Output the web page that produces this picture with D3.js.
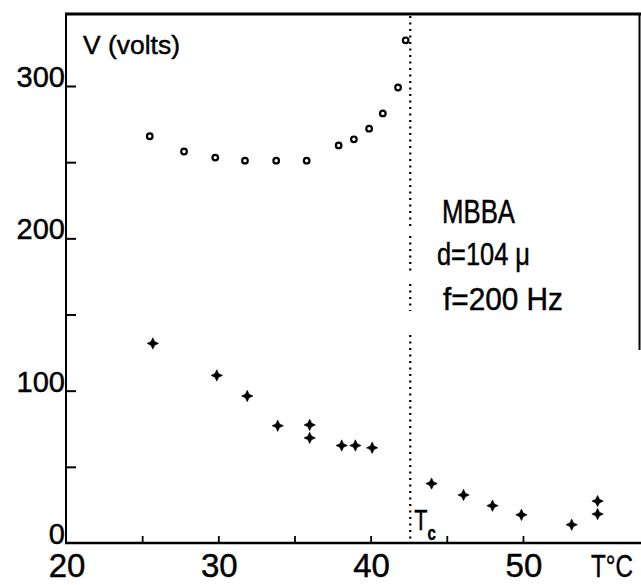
<!DOCTYPE html>
<html>
<head>
<meta charset="utf-8">
<script src="https://cdn.jsdelivr.net/npm/d3@7"></script>
<style>
  html, body { margin: 0; padding: 0; background: #fff; }
  svg { display: block; }
  text { font-family: "Liberation Sans", Arial, sans-serif; fill: #000; stroke: #000; stroke-width: 0.45px; }
</style>
</head>
<body>
<svg id="chart" width="641" height="585"></svg>
<script>
// Threshold voltage of MBBA vs temperature (nematic side: circles, isotropic-ish branch: crosses)
const circleT = [25.5, 27.75, 29.8, 31.75, 33.8, 35.8, 37.9, 38.9, 39.9, 40.8, 41.8, 42.3];
const circleV = [267, 257, 253, 251, 251, 251, 261, 265, 272, 282, 299, 330];
const crossT = [25.7, 29.9, 31.9, 33.9, 36.0, 36.0, 38.1, 39.0, 40.1, 44.0, 46.1, 48.0, 49.9, 53.2, 54.9, 54.9];
const crossV = [131, 110, 96.5, 77, 77.5, 69, 64, 64, 62.5, 39, 31.5, 24.5, 18.5, 12, 27.5, 19];
const Tc = 42.6;

const xTicks = [25, 30, 35, 40, 45, 50];
const xLabels = [20, 30, 40, 50];
const yTicks = [50, 100, 150, 200, 250, 300];
const yLabels = [0, 100, 200, 300];
const infoLines = ["MBBA", "d=104 μ", "f=200 Hz"];

const svg = d3.select("#chart");
const x = d3.scaleLinear().domain([20, 57.75]).range([66, 641]);
const y = d3.scaleLinear().domain([0, 300]).range([543, 86]);
const yTop = 14;

// frame: top rule, right edge
svg.append("line").attr("x1", x(20) - 1).attr("x2", 641).attr("y1", yTop).attr("y2", yTop)
  .attr("stroke", "#000").attr("stroke-width", 3);
svg.append("line").attr("x1", 639.5).attr("x2", 639.5).attr("y1", yTop).attr("y2", 350)
  .attr("stroke", "#000").attr("stroke-width", 2);

// y axis with inward ticks
const yAxis = d3.axisLeft(y).tickValues(yTicks).tickSizeInner(-10).tickSizeOuter(0).tickFormat("");
const gy = svg.append("g").attr("transform", `translate(${x(20)},0)`).call(yAxis);
gy.select(".domain").attr("d", `M0,${y(0)}V${yTop}`).attr("stroke-width", 2);
gy.selectAll(".tick line").attr("stroke-width", 2);

// x axis with inward ticks
const xAxis = d3.axisBottom(x).tickValues(xTicks).tickSizeInner(-7).tickSizeOuter(0).tickFormat("");
const gx = svg.append("g").attr("transform", `translate(0,${y(0)})`).call(xAxis);
gx.select(".domain").attr("d", `M${x(20) - 1},0H641`).attr("stroke-width", 2.5);
gx.selectAll(".tick line").attr("stroke-width", 1.8);

// tick labels
svg.append("g").selectAll("text").data(yLabels).join("text")
  .attr("x", x(20) - 1).attr("y", d => y(d) + 1)
  .attr("text-anchor", "end").attr("font-size", 29)
  .text(d => d);
svg.append("g").selectAll("text").data(xLabels).join("text")
  .attr("x", d => x(d) + 1).attr("y", 577)
  .attr("text-anchor", "middle").attr("font-size", 33)
  .text(d => d);
svg.append("text").attr("transform", "translate(591,577) scale(0.78,1)").attr("font-size", 31)
  .text("T°C");
svg.append("text").attr("x", 83).attr("y", 54).attr("font-size", 26)
  .attr("textLength", 97).attr("lengthAdjust", "spacingAndGlyphs").text("V (volts)");

// transition temperature marker, broken around the legend block
const dotted = (y1, y2) => svg.append("line")
  .attr("x1", x(Tc)).attr("x2", x(Tc)).attr("y1", y1).attr("y2", y2)
  .attr("stroke", "#000").attr("stroke-width", 2.3).attr("stroke-dasharray", "2,4.5");
dotted(yTop + 2, 226);
dotted(236, 272);
dotted(284, 311);
dotted(335, y(0));

// T with subscript c
const tcLabel = svg.append("text")
  .attr("transform", `translate(${x(Tc) + 4},530) scale(0.72,1)`).attr("font-size", 30);
tcLabel.append("tspan").text("T");
tcLabel.append("tspan").attr("dy", 10).attr("font-size", 21).attr("font-weight", "bold").text("c");

// legend text
const infoPos = [
  { x: 442, y: 223, len: 73, fs: 33 },
  { x: 437, y: 265, len: 93, fs: 31 },
  { x: 443, y: 310, len: 120, fs: 31 }
];
svg.append("g").selectAll("text").data(infoLines).join("text")
  .attr("x", (d, i) => infoPos[i].x).attr("y", (d, i) => infoPos[i].y)
  .attr("font-size", (d, i) => infoPos[i].fs)
  .attr("textLength", (d, i) => infoPos[i].len).attr("lengthAdjust", "spacingAndGlyphs")
  .text(d => d);

// open circles
svg.append("g").selectAll("circle").data(circleT).join("circle")
  .attr("cx", d => x(d)).attr("cy", (d, i) => y(circleV[i])).attr("r", 2.8)
  .attr("fill", "#fff").attr("stroke", "#000").attr("stroke-width", 2.2);

// four-pointed star markers
const star4 = {
  draw(ctx, size) {
    const r = Math.sqrt(size) / 2, w = r * 0.32;
    ctx.moveTo(0, -r); ctx.lineTo(w, -w); ctx.lineTo(r, 0); ctx.lineTo(w, w);
    ctx.lineTo(0, r); ctx.lineTo(-w, w); ctx.lineTo(-r, 0); ctx.lineTo(-w, -w);
    ctx.closePath();
  }
};
const starPath = d3.symbol().type(star4).size(130)();
svg.append("g").selectAll("path").data(crossT).join("path")
  .attr("transform", (d, i) => `translate(${x(d)},${y(crossV[i])})`)
  .attr("d", starPath).attr("fill", "#000").attr("stroke", "#000").attr("stroke-width", 0.6);
</script>
</body>
</html>
